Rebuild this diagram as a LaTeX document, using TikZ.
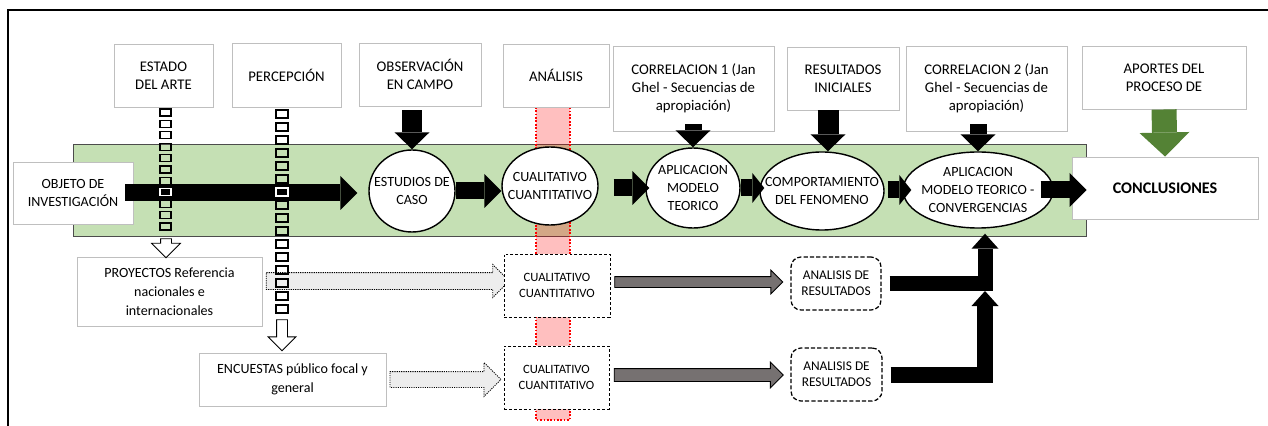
\documentclass[tikz,border=0pt]{standalone}
\usepackage{fontspec}
\setmainfont{Carlito}
\usetikzlibrary{arrows.meta,shapes.geometric,shapes.arrows}
\definecolor{verdeclaro}{HTML}{C5E0B4}
\definecolor{verdeosc}{HTML}{548235}
\definecolor{grisborde}{HTML}{BFBFBF}
\definecolor{grisflecha}{HTML}{767171}
\definecolor{grisclaro}{HTML}{EDEDED}
\begin{document}
\begin{tikzpicture}[x=0.25mm, y=-0.25mm, line join=miter,
	caja/.style={draw=grisborde, line width=0.7pt, fill=white, align=center, inner sep=1pt, font=\fontsize{10.5}{12.6}\selectfont},
	elipse/.style={ellipse, draw, line width=1pt, fill=white, inner sep=0pt},
	txt/.style={align=center, inner sep=0pt, font=\fontsize{10}{12.6}\selectfont},
	discont/.style={draw, dash pattern=on 2pt off 1.5pt, line width=0.6pt, fill=white, align=center, font=\fontsize{9}{11}\selectfont},
	resul/.style={draw, dash pattern=on 3pt off 1.5pt, line width=0.9pt, rounded corners=2.5mm, fill=white, align=center, font=\fontsize{9.5}{11.5}\selectfont},
	punteada/.style={single arrow, draw, dash pattern=on 0.8pt off 0.8pt, line width=0.6pt, fill=grisclaro, inner xsep=0pt},
	gris/.style={single arrow, draw, line width=0.6pt, fill=grisflecha, inner xsep=0pt, single arrow head extend=1.6mm},
	hueca/.style={single arrow, draw, line width=0.6pt, fill=white, inner xsep=0pt, inner ysep=1.25mm},
	cuadro/.style={draw, line width=0.75pt},
	blk/.style={line width=4.25mm, -{Triangle[width=8.5mm,length=4.25mm,line width=0pt]}},
	vblk/.style={line width=5mm, -{Triangle[width=8.75mm,length=4.25mm,line width=0pt]}},
	codo/.style={line width=3.75mm, -{Triangle[width=6.75mm,length=3.75mm,line width=0pt]}}]
	\useasboundingbox (0,0) rectangle (1268,426);
	% --- marco ---
	\draw[line width=1.6pt] (8,426) -- (8,10) -- (1268,10);
	% --- franja verde y franja de analisis ---
	\draw[fill=verdeclaro, draw=gray!60!black, line width=0.6pt] (73,144) rectangle (1086,236);
	\fill[red, opacity=0.25] (536,107) rectangle (570,420);
	\draw[red, line width=1.2pt, dash pattern=on 1.2pt off 1.2pt] (536,107) -- (536,420) -- (570,420) -- (570,107);
	% --- cajas superiores ---
	\node[caja, minimum width=24.75mm, minimum height=15.75mm] (estado) at (163.5,75.5) {ESTADO\\DEL ARTE};
	\node[caja, minimum width=27.25mm, minimum height=16mm] (percep) at (286.5,75) {PERCEPCIÓN};
	\node[caja, minimum width=30.5mm, minimum height=15.75mm] (observ) at (420,74.5) {OBSERVACIÓN\\EN CAMPO};
	\node[caja, minimum width=26.5mm, minimum height=15.75mm] (analisis) at (556,75.5) {ANÁLISIS};
	\node[caja, minimum width=40.25mm, minimum height=21.25mm] (corr1) at (693.5,88.5) {CORRELACION 1 (Jan\\Ghel - Secuencias de\\apropiación)};
	\node[caja, minimum width=28mm, minimum height=15.75mm] (result) at (843,78.5) {RESULTADOS\\INICIALES};
	\node[caja, minimum width=40.25mm, minimum height=21.25mm] (corr2) at (986.5,88.5) {CORRELACION 2 (Jan\\Ghel - Secuencias de\\apropiación)};
	\node[caja, minimum width=41mm, minimum height=15.75mm] (aportes) at (1164,77.5) {APORTES DEL\\PROCESO DE};
	% --- cajas laterales ---
	\node[caja, minimum width=30mm, minimum height=15.5mm, font=\fontsize{10}{12.6}\selectfont] (objeto) at (73,193) {OBJETO DE\\INVESTIGACIÓN};
	\node[caja, minimum width=46.5mm, minimum height=15.5mm, font=\fontsize{11.5}{13}\selectfont\bfseries] (concl) at (1165,188) {CONCLUSIONES};
	\node[caja, minimum width=46.25mm, minimum height=17.25mm, font=\fontsize{10}{13.5}\selectfont] (proyect) at (169.5,291.5) {PROYECTOS Referencia\\nacionales e\\internacionales};
	\node[caja, minimum width=46.75mm, minimum height=13.25mm, font=\fontsize{10}{13.5}\selectfont] (encuest) at (292.5,379.5) {ENCUESTAS público focal y\\general};
	% --- flechas punteadas ---
	\node[punteada, minimum height=60.75mm, inner ysep=2mm, single arrow head extend=2mm] (flechaP) at (383.5,281) {};
	\node[punteada, minimum height=27.75mm, inner ysep=1.875mm, single arrow head extend=2.25mm] (flechaE) at (441.5,379.5) {};
	% --- columnas de cuadros ---
	\foreach \i in {0,...,10} \draw[cuadro] (160,109+11.4*\i) rectangle +(11,7);
	\foreach \i in {0,...,15} \draw[cuadro] (276,110+13*\i) rectangle +(12,8);
	% --- elipses ---
	\node[elipse, minimum width=21.5mm, minimum height=20.5mm] (estudios) at (412,191) {};
	\node[txt] (estudiosT) at (estudios) {ESTUDIOS DE\\CASO};
	\node[elipse, minimum width=24mm, minimum height=19.5mm] (cualit) at (550,186) {};
	\node[txt] (cualitT) at (cualit) {CUALITATIVO\\CUANTITATIVO};
	\node[elipse, minimum width=23.5mm, minimum height=20mm] (aplic) at (693,188) {};
	\node[txt] (aplicT) at (aplic) {APLICACION\\MODELO\\TEORICO};
	\node[elipse, minimum width=31mm, minimum height=19.5mm] (comport) at (822,191) {};
	\node[txt] (comportT) at (comport) {COMPORTAMIENTO\\DEL FENOMENO};
	\node[elipse, minimum width=37.5mm, minimum height=19mm] (aplic2) at (978,190) {};
	\node[txt] (aplic2T) at (aplic2) {APLICACION\\MODELO TEORICO -\\CONVERGENCIAS};
	% --- cajas discontinuas ---
	\node[discont, minimum width=26.5mm, minimum height=15.75mm] (cualA) at (557,285.5) {CUALITATIVO\\CUANTITATIVO};
	\node[discont, minimum width=26.25mm, minimum height=15.75mm] (cualB) at (556.5,377.5) {CUALITATIVO\\CUANTITATIVO};
	\node[resul, minimum width=22.5mm, minimum height=13.25mm] (analA) at (836,283.5) {ANALISIS DE\\RESULTADOS};
	\node[resul, minimum width=22.75mm, minimum height=13.25mm] (analB) at (836.5,374.5) {ANALISIS DE\\RESULTADOS};
	% --- flechas grises ---
	\node[gris, minimum height=42mm, inner ysep=1.25mm] (flechaA) at (696,282) {};
	\node[gris, minimum height=42.25mm, inner ysep=1.5mm] (flechaB) at (695.5,375) {};
	% --- flechas negras fila principal ---
	\draw[blk] ([xshift=-2mm]objeto.east) -- ([xshift=-2.75mm]estudios.west |- objeto.east);
	\draw[blk] (estudios.east) -- (cualit.west |- estudios.east);
	\draw[blk] ([xshift=3.75mm]cualit.east |- aplic.west) -- ([xshift=1mm]aplic.west);
	\draw[blk, -{Triangle[width=7.5mm,length=3mm,line width=0pt]}] (aplic.east) -- ([xshift=1.25mm]comport.west |- aplic.east);
	\draw[blk, -{Triangle[width=7.5mm,length=3mm,line width=0pt]}] ([xshift=0.75mm]comport.east |- aplic2.west) -- ([xshift=2.25mm]aplic2.west);
	\draw[blk] ([xshift=-3.25mm]aplic2.east) -- ([xshift=3.75mm]concl.west |- aplic2.east);
	% --- flechas verticales ---
	\draw[vblk] ([yshift=-1mm]estudios.north |- observ.south) -- (estudios.north);
	\draw[vblk, line width=4.25mm] ([yshift=1.75mm]corr1.south -| aplic.north) -- (aplic.north);
	\draw[vblk, line width=5.25mm] ([xshift=1.5mm]comport.north |- result.south) -- ([xshift=1.5mm]comport.north);
	\draw[vblk, line width=4.25mm] ([yshift=1.75mm]corr2.south -| aplic2.north) -- (aplic2.north);
	\draw[verdeosc, line width=6.25mm, -{Triangle[width=12.5mm,length=6mm,line width=0pt]}] (aportes.south) -- (concl.north);
	% --- flechas huecas ---
	\node[hueca, minimum height=4.75mm, single arrow head extend=2.25mm, rotate=-90] (bajaE) at (166,245.5) {};
	\node[hueca, minimum height=7.75mm, single arrow head extend=2.1mm, rotate=-90] (bajaP) at (282,332.5) {};
	% --- cuadros sobre la flecha negra ---
	\draw[cuadro, white] (160,188.8) rectangle +(11,7);
	\draw[cuadro, white] (276,188) rectangle +(12,8);
	% --- flechas en codo ---
	\coordinate (union) at (985,291);
	\draw[codo] ([xshift=2mm]analA.east) -| ([xshift=1.75mm,yshift=-1.25mm]aplic2.south);
	\draw[codo, line width=4mm] ([xshift=2mm]analB.east) -| (union);
\end{tikzpicture}
\end{document}
